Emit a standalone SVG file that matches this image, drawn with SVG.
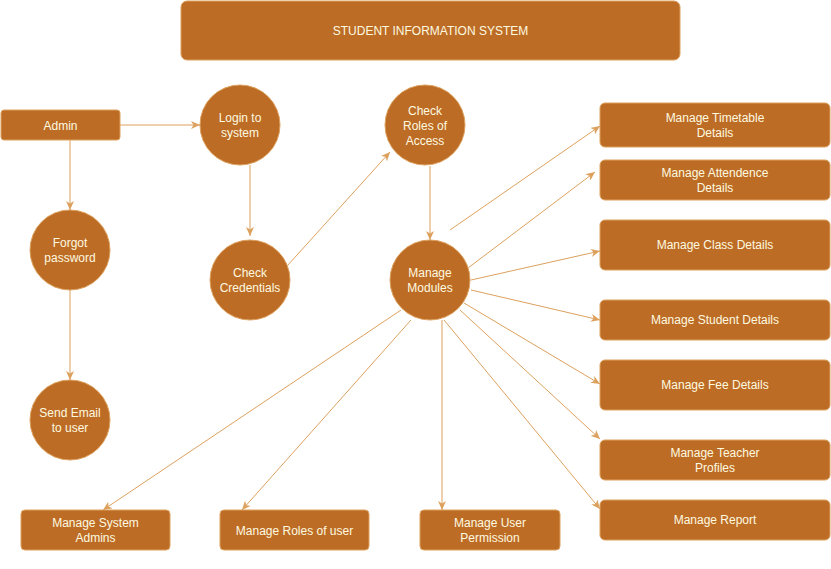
<svg xmlns="http://www.w3.org/2000/svg" width="831" height="569" viewBox="0 0 831 569">
<style>
.n{fill:#BC6C25;stroke:#DDA15E;stroke-width:1}
.t{fill:#FEFAE0;font-family:"Liberation Sans",Arial,sans-serif;font-size:12px;text-anchor:middle}
.e{fill:none;stroke:#DDA15E;stroke-width:1;marker-end:url(#a)}
</style>
<defs>
<marker id="a" markerWidth="10" markerHeight="8" refX="9" refY="4" orient="auto" markerUnits="userSpaceOnUse">
<path d="M0,0 L9,4 L0,8 L2.5,4 Z" fill="#DDA15E"/>
</marker>
</defs>
<rect width="831" height="569" fill="#FFFFFF"/>
<g id="connectors">
<line class="e" x1="120" y1="125" x2="200" y2="125"/>
<line class="e" x1="70" y1="140" x2="70" y2="210"/>
<line class="e" x1="70" y1="290" x2="70" y2="380"/>
<line class="e" x1="250" y1="165" x2="250" y2="236"/>
<line class="e" x1="288" y1="265" x2="390" y2="152"/>
<line class="e" x1="430" y1="166" x2="430" y2="240"/>
<line class="e" x1="450" y1="230" x2="600" y2="126"/>
<line class="e" x1="468" y1="268" x2="595" y2="172"/>
<line class="e" x1="471" y1="280" x2="600" y2="251"/>
<line class="e" x1="471" y1="290" x2="600" y2="320"/>
<line class="e" x1="464" y1="303" x2="600" y2="384"/>
<line class="e" x1="460" y1="310" x2="600" y2="439"/>
<line class="e" x1="444" y1="320" x2="600" y2="509"/>
<line class="e" x1="442" y1="320" x2="442" y2="510"/>
<line class="e" x1="411" y1="320" x2="242" y2="510"/>
<line class="e" x1="401" y1="310" x2="103" y2="510"/>
</g>
<g id="title">
<rect class="n" x="181" y="1" width="499" height="59" rx="6"/>
<text class="t" x="430.5" y="35">STUDENT INFORMATION SYSTEM</text>
</g>
<g id="admin">
<rect class="n" x="1" y="110" width="119" height="30" rx="3"/>
<text class="t" x="60.5" y="130">Admin</text>
</g>
<g id="login">
<circle class="n" cx="240" cy="125" r="40"/>
<text class="t" x="240" y="122">Login to</text>
<text class="t" x="240" y="137">system</text>
</g>
<g id="check-roles">
<circle class="n" cx="425" cy="125" r="40"/>
<text class="t" x="425" y="115">Check</text>
<text class="t" x="425" y="130">Roles of</text>
<text class="t" x="425" y="145">Access</text>
</g>
<g id="forgot">
<circle class="n" cx="70" cy="250" r="40"/>
<text class="t" x="70" y="247">Forgot</text>
<text class="t" x="70" y="262">password</text>
</g>
<g id="check-credentials">
<circle class="n" cx="250" cy="280" r="40"/>
<text class="t" x="250" y="277">Check</text>
<text class="t" x="250" y="292">Credentials</text>
</g>
<g id="manage-modules">
<circle class="n" cx="430" cy="280" r="40"/>
<text class="t" x="430" y="277">Manage</text>
<text class="t" x="430" y="292">Modules</text>
</g>
<g id="send-email">
<circle class="n" cx="70" cy="420" r="40"/>
<text class="t" x="70" y="417">Send Email</text>
<text class="t" x="70" y="432">to user</text>
</g>
<g id="timetable">
<rect class="n" x="600" y="103" width="230" height="44" rx="5"/>
<text class="t" x="715" y="122">Manage Timetable</text>
<text class="t" x="715" y="137">Details</text>
</g>
<g id="attendence">
<rect class="n" x="600" y="160" width="230" height="40" rx="5"/>
<text class="t" x="715" y="177">Manage Attendence</text>
<text class="t" x="715" y="192">Details</text>
</g>
<g id="class">
<rect class="n" x="600" y="220" width="230" height="50" rx="5"/>
<text class="t" x="715" y="249">Manage Class Details</text>
</g>
<g id="student">
<rect class="n" x="600" y="300" width="230" height="40" rx="5"/>
<text class="t" x="715" y="324">Manage Student Details</text>
</g>
<g id="fee">
<rect class="n" x="600" y="360" width="230" height="50" rx="5"/>
<text class="t" x="715" y="389">Manage Fee Details</text>
</g>
<g id="teacher">
<rect class="n" x="600" y="440" width="230" height="40" rx="5"/>
<text class="t" x="715" y="457">Manage Teacher</text>
<text class="t" x="715" y="472">Profiles</text>
</g>
<g id="report">
<rect class="n" x="600" y="500" width="230" height="40" rx="5"/>
<text class="t" x="715" y="524">Manage Report</text>
</g>
<g id="system-admins">
<rect class="n" x="21" y="510" width="149" height="40" rx="4"/>
<text class="t" x="95.5" y="527">Manage System</text>
<text class="t" x="95.5" y="542">Admins</text>
</g>
<g id="roles-of-user">
<rect class="n" x="220" y="510" width="149" height="40" rx="4"/>
<text class="t" x="294.5" y="535">Manage Roles of user</text>
</g>
<g id="user-permission">
<rect class="n" x="420" y="510" width="140" height="40" rx="4"/>
<text class="t" x="490" y="527">Manage User</text>
<text class="t" x="490" y="542">Permission</text>
</g>
</svg>
